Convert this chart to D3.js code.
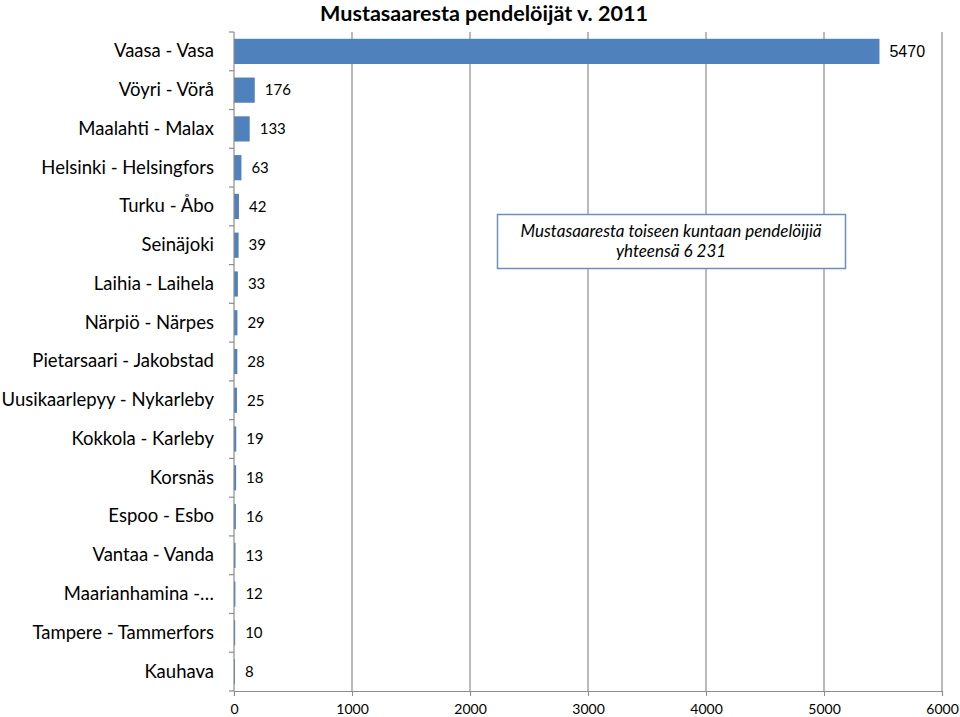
<!DOCTYPE html>
<html><head><meta charset="utf-8">
<script src="https://cdn.jsdelivr.net/npm/d3@7"></script>
<style>body{margin:0;background:#fff}svg{display:block}</style>
</head><body>
<svg id="c" width="960" height="717"></svg>
<script>
const categories = ["Vaasa - Vasa","Vöyri - Vörå","Maalahti - Malax","Helsinki - Helsingfors","Turku - Åbo","Seinäjoki","Laihia - Laihela","Närpiö - Närpes","Pietarsaari - Jakobstad","Uusikaarlepyy - Nykarleby","Kokkola - Karleby","Korsnäs","Espoo - Esbo","Vantaa - Vanda","Maarianhamina -…","Tampere - Tammerfors","Kauhava"];
const values = [5470,176,133,63,42,39,33,29,28,25,19,18,16,13,12,10,8];
const xTicks = [0,1000,2000,3000,4000,5000,6000];
const title = "Mustasaaresta pendelöijät v. 2011";
const note = ["Mustasaaresta toiseen kuntaan pendelöijiä","yhteensä 6 231"];

const svg = d3.select("#c");
const font = "Lato, 'Open Sans', sans-serif";
const L = 234, R = 942, T = 32, B = 691;
const x = d3.scaleLinear().domain([0,6000]).range([L,R]);
const y = d3.scaleBand().domain(categories).range([T,B]).paddingInner(0.35).paddingOuter(0.175);
const band = d3.scaleBand().domain(categories).range([T,B]);

// gridlines
svg.append("g").selectAll("line").data(xTicks.slice(1)).join("line")
  .attr("x1",d=>x(d)).attr("x2",d=>x(d)).attr("y1",T).attr("y2",B)
  .attr("stroke","#8c8c8c").attr("stroke-width",1.2);

// bars
svg.append("g").selectAll("rect").data(values).join("rect")
  .attr("x",x(0)).attr("y",(d,i)=>y(categories[i]))
  .attr("width",d=>x(d)-x(0)).attr("height",y.bandwidth())
  .attr("fill","#4f81bd");

// x axis
const xa = svg.append("g").attr("transform",`translate(0,${B})`)
  .call(d3.axisBottom(x).tickValues(xTicks).tickSize(5).tickPadding(8).tickFormat(d3.format("d")));
xa.select(".domain").attr("stroke","#8c8c8c").attr("stroke-width",1.2);
xa.selectAll(".tick line").attr("stroke","#8c8c8c");
xa.selectAll("text").attr("font-family",font).attr("font-size",14).attr("fill","#000");

// y axis
const ya = svg.append("g").attr("transform",`translate(${L},0)`)
  .call(d3.axisLeft(y).tickSize(0).tickPadding(20));
ya.select(".domain").attr("stroke","#8c8c8c").attr("stroke-width",1.2).attr("d",`M0,${T}V${B}`);
ya.selectAll("text").attr("font-family",font).attr("font-size",18.5).attr("fill","#000");
// band boundary ticks
svg.append("g").selectAll("line").data(d3.range(categories.length+1)).join("line")
  .attr("x1",L-5).attr("x2",L).attr("y1",i=>T+i*band.bandwidth()).attr("y2",i=>T+i*band.bandwidth())
  .attr("stroke","#8c8c8c").attr("stroke-width",1.2);

// value labels
svg.append("g").selectAll("text").data(values).join("text")
  .attr("x",d=>x(d)+10).attr("y",(d,i)=>y(categories[i])+y.bandwidth()/2)
  .attr("dy","0.35em")
  .attr("font-family",(d,i)=>i===0?"'Liberation Sans', Arial, sans-serif":font)
  .attr("font-size",(d,i)=>i===0?16:15)
  .text(d=>d);

// title (fit to reference width)
const tt = svg.append("text").attr("x",484).attr("y",21).attr("text-anchor","middle")
  .attr("font-family",font).attr("font-weight","bold")
  .attr("font-size",22).text(title);
const tw = tt.node().getComputedTextLength();
tt.attr("font-size", 22*328/tw);

// annotation box
svg.append("rect").attr("x",497.5).attr("y",214.5).attr("width",348).attr("height",54)
  .attr("fill","#fff").attr("stroke","#6f8fba").attr("stroke-width",1.5);
svg.append("g").selectAll("text").data(note).join("text")
  .attr("x",671).attr("y",(d,i)=>237+i*20).attr("text-anchor","middle")
  .attr("font-family",font).attr("font-style","italic").attr("font-size",17).text(d=>d);
</script>
</body></html>
